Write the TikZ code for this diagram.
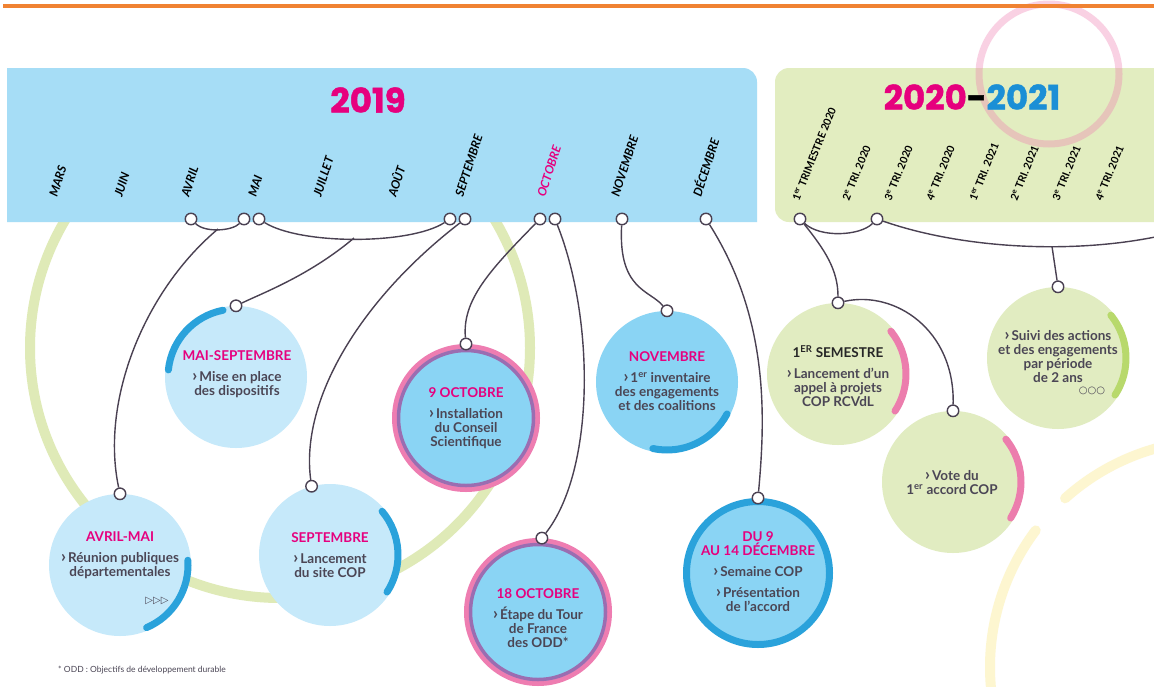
\documentclass[tikz,border=0pt]{standalone}
\usepackage{fontspec}
\setmainfont{Lato}
\newfontfamily\yearfont{Poppins}[BoldFeatures={FakeBold=1.2}]
\newfontfamily\symfont{DejaVu Sans}
\definecolor{bandblue}{HTML}{A6DDF6}
\definecolor{bandgreen}{HTML}{E2EDC0}
\definecolor{pinkc}{HTML}{E6007E}
\definecolor{bluec}{HTML}{1B8FD6}
\definecolor{textc}{HTML}{4B4655}
\definecolor{linkc}{HTML}{4A4152}
\definecolor{paleblue}{HTML}{C6E9FA}
\definecolor{midblue}{HTML}{8AD4F4}
\definecolor{accblue}{HTML}{2AA2DB}
\definecolor{ringpink}{HTML}{EE7DB1}
\definecolor{ringpurple}{HTML}{9B6DB1}
\definecolor{palegreen}{HTML}{E1ECC1}
\definecolor{accgreen}{HTML}{B8D96C}
\definecolor{accpink}{HTML}{EC7DAD}
\definecolor{decogreen}{HTML}{DFEAB7}
\definecolor{decoyellow}{HTML}{FDF6D0}
\definecolor{orangec}{HTML}{F08232}
\newcommand\hd[1]{\textcolor{pinkc}{#1}}
\newcommand\chev{{\fontsize{17}{14}\selectfont›}\kern2pt}

\begin{document}
\begin{tikzpicture}[x=1pt,y=-1pt,
  link/.style={draw=linkc,line width=1.4pt},
  knot/.style={circle,draw=linkc,fill=white,line width=1.4pt,minimum size=11.5pt,inner sep=0pt},
  event/.style={circle,minimum size=142pt,inner sep=0pt},
  accent/.style={line width=7pt,line cap=round},
  caption/.style={align=center,text=textc,inner sep=0pt,font=\bfseries\fontsize{13.5}{14}\selectfont},
  month/.style={rotate=72,anchor=base west,inner sep=0pt,font=\bfseries\itshape\fontsize{12}{12}\selectfont},
  quarter/.style={rotate=68,anchor=base west,inner sep=0pt,font=\bfseries\fontsize{10.5}{10.5}\selectfont},
  year/.style={font=\yearfont\bfseries\fontsize{34}{34}\selectfont}]
  \useasboundingbox (0,0) rectangle (1154,686);
  \clip (0,0) rectangle (1154,686);
  \fill[white] (0,0) rectangle (1154,686);
  \draw[decogreen,line width=10pt] (280,348) circle[radius=250];
  \draw[decoyellow,line width=10pt,line cap=round] (1217,667) ++(-95:227) arc[start angle=-95,end angle=-132,radius=227];
  \draw[decoyellow,line width=10pt,line cap=round] (1217,667) ++(-143:227) arc[start angle=-143,end angle=-195,radius=227];
  \fill[bandblue] (7,222) -- (7,68) -- (743,68) arc[start angle=-90,end angle=0,radius=14] -- (757,222) -- cycle;
  \fill[bandgreen,rounded corners=14pt] (775,68) rectangle (1185,222);
  \draw[ringpink,line width=7pt,opacity=0.35] (1049,74) circle[radius=70];
  \fill[orangec] (3,4) rectangle (1154,7.5);

  \node[year,text=pinkc] (y2019) at (368,100) {2019};
  \node[year] (y2021) at (972,97) {\textcolor{pinkc}{2020}\textcolor{black}{-}\textcolor{bluec}{2021}};
  \foreach \x/\m in {57/MARS,122/JUIN,189/AVRIL,256/MAI,321/JUILLET,396/AOÛT,463/SEPTEMBRE,545/\textcolor{pinkc}{OCTOBRE},619/NOVEMBRE,701/DÉCEMBRE}
    \node[month] (m\x) at (\x,198) {\m};
  \foreach \x/\q in {799/1\textsuperscript{er} TRIMESTRE 2020,849/2\textsuperscript{e} TRI. 2020,891/3\textsuperscript{e} TRI. 2020,933/4\textsuperscript{e} TRI. 2020,976/1\textsuperscript{er} TRI. 2021,1017/2\textsuperscript{e} TRI. 2021,1059/3\textsuperscript{e} TRI. 2021,1102/4\textsuperscript{e} TRI. 2021}
    \node[quarter] (q\x) at (\x,202) {\q};

  \node[event,fill=paleblue] (am) at (120,565) {};
  \node[event,fill=paleblue] (ms) at (236,377) {};
  \node[event,fill=paleblue] (sp) at (330,555) {};
  \node[event,fill=midblue,draw=ringpink,line width=5pt,minimum size=143pt] (oct9) at (466,418) {};
  \draw[ringpurple,line width=3.5pt] (oct9.center) circle[radius=67.5];
  \node[event,fill=midblue,draw=ringpink,line width=5pt,minimum size=143pt] (oct18) at (538,612) {};
  \draw[ringpurple,line width=3.5pt] (oct18.center) circle[radius=67.5];
  \node[event,fill=midblue] (nov) at (667,382) {};
  \node[event,fill=midblue,draw=accblue,line width=7pt,minimum size=143pt] (dec) at (758,573) {};
  \node[event,fill=palegreen] (sem) at (838,374) {};
  \node[event,fill=palegreen] (vote) at (953,482) {};
  \node[event,fill=palegreen] (suivi) at (1058,358) {};

  \draw[accent,accblue] (am.center) ++(-4:68) arc[start angle=-4,end angle=67,radius=68];
  \draw[accent,accblue] (ms.center) ++(-101:68) arc[start angle=-101,end angle=-174,radius=68];
  \draw[accent,accblue] (sp.center) ++(-40:68) arc[start angle=-40,end angle=33,radius=68];
  \draw[accent,accblue] (nov.center) ++(28:68) arc[start angle=28,end angle=102,radius=68];
  \draw[accent,accpink] (sem.center) ++(-39:68) arc[start angle=-39,end angle=33,radius=68];
  \draw[accent,accpink] (vote.center) ++(-39:68) arc[start angle=-39,end angle=32,radius=68];
  \draw[accent,accgreen] (suivi.center) ++(-39:68) arc[start angle=-39,end angle=33,radius=68];

  \node[caption] (tAM) at (120,555) {\hd{AVRIL-MAI}\\[7pt]\chev Réunion publiques\\départementales};
  \node[font=\symfont\bfseries\fontsize{10}{10}\selectfont,text=textc] (arrAM) at (157,601) {▷▷▷};
  \node[caption] (tMS) at (237,374) {\hd{MAI-SEPTEMBRE}\\[7pt]\chev Mise en place\\des dispositifs};
  \node[caption] (tSP) at (330,555) {\hd{SEPTEMBRE}\\[7pt]\chev Lancement\\du site COP};
  \node[caption] (tOct9) at (466,418) {\hd{9 OCTOBRE}\\[7pt]\chev Installation\\du Conseil\\Scientifique};
  \node[caption] (tOct18) at (538,618) {\hd{18 OCTOBRE}\\[7pt]\chev Étape du Tour\\de France\\des ODD*};
  \node[caption] (tNov) at (667,381) {\hd{NOVEMBRE}\\[7pt]\chev 1\textsuperscript{er} inventaire\\des engagements\\et des coalitions};
  \node[caption] (tDec) at (758,572) {\hd{DU 9}\\\hd{AU 14 DÉCEMBRE}\\[7pt]\chev Semaine COP\\[7pt]\chev Présentation\\de l’accord};
  \node[caption] (tSem) at (838,376) {\textcolor{black!85}{1\textsuperscript{ER} SEMESTRE}\\[7pt]\chev Lancement d’un\\appel à projets\\COP RCVdL};
  \node[caption] (tVote) at (952,483) {\chev Vote du\\1\textsuperscript{er} accord COP};
  \node[caption] (tSuivi) at (1058,357) {\chev Suivi des actions\\et des engagements\\par période\\de 2 ans};
  \node[font=\symfont\bfseries\fontsize{10}{10}\selectfont,text=textc] (dots) at (1092,391) {○○○};
  \node[anchor=west,inner sep=0pt,text=textc,font=\fontsize{8.5}{9}\selectfont] (note) at (58,670) {* ODD : Objectifs de développement durable};

  \foreach \n/\x in {kAvril/191,kMai1/244,kMai2/259,kSep1/450,kSep2/465,kOct1/540,kOct2/555,kNov/622,kDec/706,kTri1/800,kTri2/877}
    \node[knot] (\n) at (\x,219) {};
  \node[knot] (kAM) at (am.north) {};
  \node[knot] (kMS) at (ms.north) {};
  \node[knot] (kSP) at (sp.105) {};
  \node[knot] (kOct9) at (oct9.north) {};
  \node[knot] (kOct18) at (oct18.87) {};
  \node[knot] (kNovC) at (nov.north) {};
  \node[knot] (kDecC) at (dec.north) {};
  \node[knot] (kSem) at (sem.north) {};
  \node[knot] (kVote) at (vote.north) {};
  \node[knot] (kSuivi) at (suivi.north) {};

  \coordinate (jAvril) at (218,229);
  \coordinate (jMai) at (354,238);
  \coordinate (jTri) at (1052,246.5);
  \coordinate (eRight) at (1160,236);
  \draw[link] (kAvril) .. controls (205,233) and (232,231) .. (kMai1);
  \draw[link] (jAvril) .. controls (145,290) and (100,400) .. (kAM);
  \draw[link] (kMai2) .. controls (300,245) and (410,245) .. (kSep1);
  \draw[link] (jMai) .. controls (310,275) and (265,292) .. (kMS);
  \draw[link] (kSep2) .. controls (360,300) and (300,400) .. (kSP);
  \draw[link] (kOct1) .. controls (490,270) and (462,300) .. (kOct9);
  \draw[link] (kOct2) .. controls (595,320) and (595,470) .. (kOct18);
  \draw[link] (kNov) .. controls (618,290) and (650,290) .. (kNovC);
  \draw[link] (kDec) .. controls (770,320) and (765,420) .. (kDecC);
  \draw[link] (kTri1) .. controls (820,238) and (860,236) .. (kTri2);
  \draw[link] (kTri2) .. controls (960,248) and (1070,255) .. (eRight);
  \draw[link] (jTri) -- (kSuivi);
  \draw[link] (kTri1) .. controls (825,250) and (838,270) .. (kSem);
  \draw[link] (kSem) .. controls (895,290) and (955,330) .. (kVote);
\end{tikzpicture}
\end{document}
